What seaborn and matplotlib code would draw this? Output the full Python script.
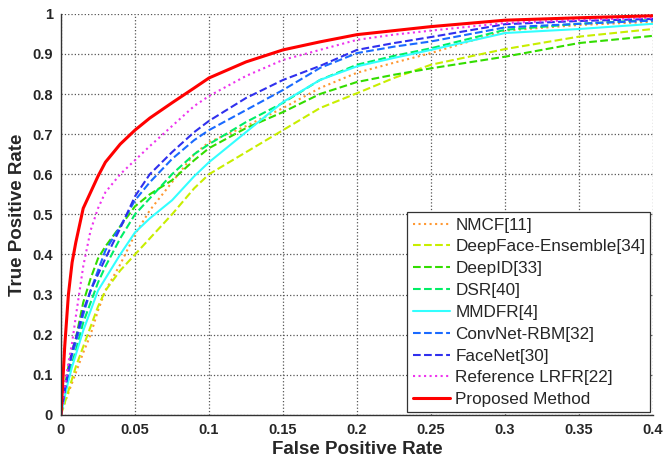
import numpy as np
import pandas as pd
import matplotlib
matplotlib.use("Agg")
import matplotlib.pyplot as plt
import seaborn as sns

# False positive rate sample points shared by all curves
fpr = [0, 0.0025, 0.005, 0.0075, 0.01, 0.015, 0.02, 0.025, 0.03, 0.04, 0.05,
       0.06, 0.075, 0.09, 0.1, 0.125, 0.15, 0.175, 0.2, 0.225, 0.25, 0.3,
       0.35, 0.4]

# True positive rate for each method
tpr_nmcf = [0, 0.03, 0.055, 0.08, 0.105, 0.155, 0.2, 0.26, 0.31, 0.375, 0.45,
            0.51, 0.58, 0.65, 0.68, 0.72, 0.765, 0.815, 0.853, 0.878, 0.902,
            0.958, 0.972, 0.98]
tpr_deepface = [0, 0.03, 0.06, 0.09, 0.12, 0.17, 0.22, 0.27, 0.31, 0.36, 0.4,
                0.44, 0.5, 0.565, 0.6, 0.655, 0.71, 0.765, 0.802, 0.84, 0.873,
                0.912, 0.943, 0.962]
tpr_deepid = [0, 0.07, 0.12, 0.16, 0.19, 0.28, 0.34, 0.39, 0.42, 0.47, 0.52,
              0.55, 0.585, 0.635, 0.665, 0.715, 0.755, 0.8, 0.83, 0.848, 0.864,
              0.893, 0.927, 0.945]
tpr_dsr = [0, 0.05, 0.09, 0.13, 0.16, 0.23, 0.28, 0.33, 0.37, 0.44, 0.5,
           0.54, 0.6, 0.65, 0.675, 0.73, 0.778, 0.835, 0.873, 0.895, 0.914,
           0.96, 0.975, 0.985]
tpr_mmdfr = [0, 0.045, 0.085, 0.12, 0.15, 0.21, 0.26, 0.31, 0.34, 0.4, 0.455,
             0.49, 0.535, 0.595, 0.63, 0.705, 0.78, 0.835, 0.869, 0.89, 0.91,
             0.952, 0.962, 0.975]
tpr_convnet = [0, 0.06, 0.11, 0.15, 0.18, 0.25, 0.31, 0.36, 0.41, 0.47, 0.535,
               0.58, 0.638, 0.685, 0.71, 0.76, 0.81, 0.865, 0.902, 0.918,
               0.931, 0.966, 0.975, 0.983]
tpr_facenet = [0, 0.06, 0.11, 0.16, 0.19, 0.26, 0.31, 0.35, 0.39, 0.465, 0.545,
               0.6, 0.655, 0.705, 0.733, 0.79, 0.835, 0.87, 0.91, 0.927, 0.942,
               0.974, 0.982, 0.987]
tpr_lrfr = [0, 0.07, 0.13, 0.18, 0.245, 0.37, 0.46, 0.515, 0.555, 0.6, 0.635,
            0.67, 0.72, 0.77, 0.795, 0.845, 0.885, 0.91, 0.935, 0.948, 0.958,
            0.977, 0.985, 0.99]
tpr_proposed = [0, 0.17, 0.3, 0.38, 0.43, 0.515, 0.555, 0.595, 0.63, 0.675,
                0.71, 0.74, 0.778, 0.815, 0.84, 0.88, 0.91, 0.93, 0.948,
                0.958, 0.968, 0.984, 0.99, 0.995]

methods = ['NMCF[11]', 'DeepFace-Ensemble[34]', 'DeepID[33]', 'DSR[40]',
           'MMDFR[4]', 'ConvNet-RBM[32]', 'FaceNet[30]',
           'Reference LRFR[22]', 'Proposed Method']
curves = [tpr_nmcf, tpr_deepface, tpr_deepid, tpr_dsr, tpr_mmdfr,
          tpr_convnet, tpr_facenet, tpr_lrfr, tpr_proposed]

xtick_vals = [0, 0.05, 0.1, 0.15, 0.2, 0.25, 0.3, 0.35, 0.4]
xtick_labels = ['0', '0.05', '0.1', '0.15', '0.2', '0.25', '0.3', '0.35', '0.4']
ytick_vals = [0, 0.1, 0.2, 0.3, 0.4, 0.5, 0.6, 0.7, 0.8, 0.9, 1.0]
ytick_labels = ['0', '0.1', '0.2', '0.3', '0.4', '0.5', '0.6', '0.7', '0.8', '0.9', '1']

# styling per method
colors = ['#ff9933', '#c8ee00', '#33dd00', '#00ee66', '#33ffff',
          '#1a6aff', '#3030ee', '#ee33ee', '#ff0000']
styles = [':', '--', '--', '--', '-', '--', '--', ':', '-']
widths = [1.5, 1.5, 1.5, 1.5, 1.5, 1.5, 1.5, 1.5, 2.2]

df = pd.DataFrame({
    'fpr': fpr * len(methods),
    'tpr': [v for c in curves for v in c],
    'method': [m for m in methods for _ in fpr],
})

sns.set_style("white")
plt.rcParams['font.family'] = ['Liberation Sans', 'DejaVu Sans']

fig = plt.figure(figsize=(6.63, 4.59), dpi=100)
ax = fig.add_axes([0.092, 0.096, 0.893, 0.874])

for m, c, ls, lw in zip(methods, colors, styles, widths):
    sub = df[df['method'] == m]
    sns.lineplot(data=sub, x='fpr', y='tpr', ax=ax, color=c, linestyle=ls,
                 linewidth=lw, label=m, estimator=None, sort=False)

ax.set_xlim(0, 0.4)
ax.set_ylim(0, 1)
ax.set_xticks(xtick_vals)
ax.set_xticklabels(xtick_labels, fontsize=10.5, fontweight='bold')
ax.set_yticks(ytick_vals)
ax.set_yticklabels(ytick_labels, fontsize=10.5, fontweight='bold')
ax.tick_params(direction='in', length=4, width=0.8, pad=6)

ax.grid(True, linestyle=':', color='#555555', linewidth=0.9)
for s in ['top', 'right']:
    ax.spines[s].set_visible(False)
for s in ['left', 'bottom']:
    ax.spines[s].set_color('#333333')
    ax.spines[s].set_linewidth(1.0)

ax.set_xlabel('False Positive Rate', fontsize=13.5, fontweight='bold', labelpad=3)
ax.set_ylabel('True Positive Rate', fontsize=13.5, fontweight='bold', labelpad=4)

leg = ax.legend(loc='lower right', fontsize=12.3, frameon=True, fancybox=False,
                edgecolor='#333333', framealpha=1, handlelength=2.2,
                handletextpad=0.3, labelspacing=0.4, borderpad=0.3,
                borderaxespad=0.15)
leg.get_frame().set_linewidth(0.9)

fig.savefig('out.png', dpi=100)
